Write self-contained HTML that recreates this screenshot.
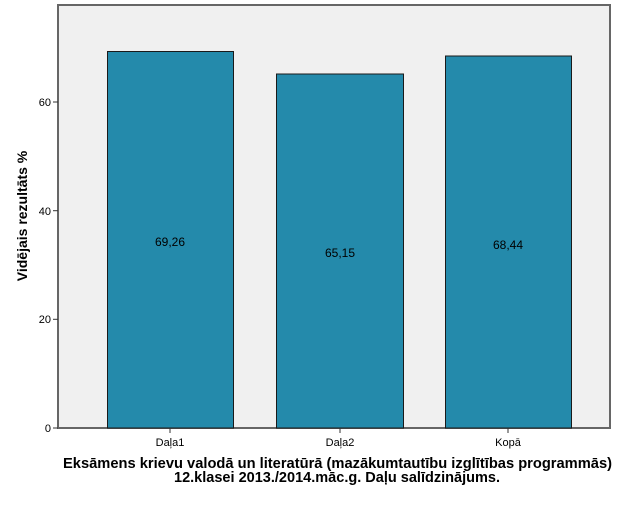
<!DOCTYPE html>
<html><head><meta charset="utf-8"><style>
body{margin:0;background:#fff;}
svg text{font-family:"Liberation Sans",sans-serif;}
</style></head><body>
<svg width="625" height="500" viewBox="0 0 625 500" xmlns="http://www.w3.org/2000/svg">
<rect x="58" y="5" width="552" height="423" fill="#f0f0f0" stroke="#666" stroke-width="2"/>
<g fill="#248aab" stroke="#1a1a1a" stroke-width="1">
<rect x="107.5" y="51.5" width="126" height="376.5"/>
<rect x="276.5" y="74" width="127" height="354"/>
<rect x="445.5" y="56" width="126" height="372"/>
</g>
<g fill="#000" font-size="12" text-anchor="middle">
<text x="170" y="246">69,26</text>
<text x="340" y="257">65,15</text>
<text x="508" y="249">68,44</text>
</g>
<g stroke="#333" stroke-width="1">
<line x1="53" y1="428" x2="58" y2="428"/><line x1="53" y1="319.3" x2="58" y2="319.3"/>
<line x1="53" y1="210.7" x2="58" y2="210.7"/><line x1="53" y1="102" x2="58" y2="102"/>
<line x1="170" y1="428" x2="170" y2="433"/><line x1="340" y1="428" x2="340" y2="433"/><line x1="508" y1="428" x2="508" y2="433"/>
</g>
<g font-size="11" fill="#000" text-anchor="end">
<text x="51" y="432">0</text><text x="51" y="323">20</text><text x="51" y="215">40</text><text x="51" y="106">60</text>
</g>
<g font-size="11" fill="#000" text-anchor="middle">
<text x="170" y="446">Daļa1</text><text x="340" y="446">Daļa2</text><text x="508" y="446">Kopā</text>
</g>
<text transform="translate(27,216) rotate(-90)" text-anchor="middle" font-size="14" font-weight="bold">Vidējais rezultāts %</text>
<text x="63" y="468" textLength="549" lengthAdjust="spacingAndGlyphs" font-size="15" font-weight="bold">Eksāmens krievu valodā un literatūrā (mazākumtautību izglītības programmās)</text>
<text x="174" y="482" textLength="326" lengthAdjust="spacingAndGlyphs" font-size="15" font-weight="bold">12.klasei 2013./2014.māc.g. Daļu salīdzinājums.</text>
</svg>
</body></html>
